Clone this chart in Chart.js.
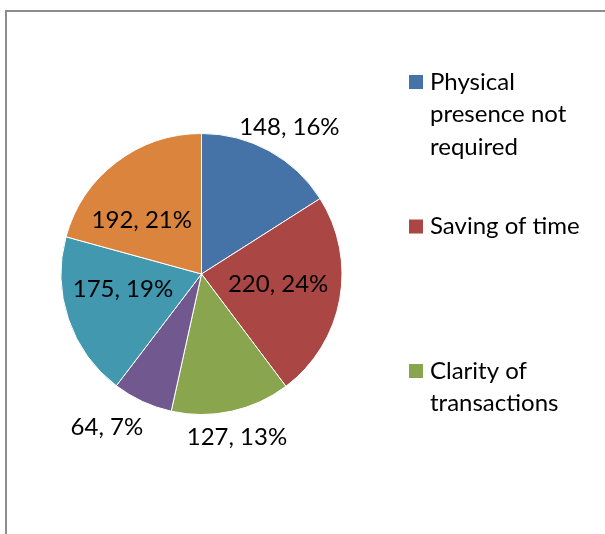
<!DOCTYPE html>
<html>
<head>
<meta charset="utf-8">
<script src="https://cdn.jsdelivr.net/npm/chart.js@4"></script>
<style>
  html, body { margin: 0; padding: 0; background: #fff; }
  #wrap { position: relative; width: 605px; height: 534px; overflow: hidden; }
  #frame { position: absolute; left: 5px; top: 10px; width: 700px; height: 600px;
           border-left: 2px solid #8c8c8c; border-top: 2px solid #8c8c8c; box-sizing: border-box; }
  canvas { position: absolute; left: 0; top: 0; }
</style>
</head>
<body>
<div id="wrap">
  <div id="frame"></div>
  <canvas id="c" width="605" height="534"></canvas>
</div>
<script>
// ---- data ----
const categories = [
  ["Physical", "presence not", "required"],
  ["Saving of time"],
  ["Clarity of", "transactions"],
  ["Category 4"],
  ["Category 5"],
  ["Category 6"]
];
const values = [148, 220, 127, 64, 175, 192];
const percentLabels = [16, 24, 13, 7, 19, 21];
const colors = ["#4572A7", "#AA4643", "#89A54E", "#71588F", "#4198AF", "#DB843D"];

const FONT = "Lato, 'Liberation Sans', sans-serif";

const labelPlugin = {
  id: 'sliceLabels',
  afterDatasetsDraw(chart, args, opts) {
    const ctx = chart.ctx;
    const meta = chart.getDatasetMeta(0);
    ctx.save();
    ctx.font = opts.fontSize + 'px ' + FONT;
    ctx.fillStyle = '#000';
    ctx.textAlign = 'center';
    ctx.textBaseline = 'middle';
    meta.data.forEach((arc, i) => {
      const p = arc.getProps(['x', 'y', 'startAngle', 'endAngle', 'outerRadius'], true);
      const mid = (p.startAngle + p.endAngle) / 2 + (opts.angleShift[i] || 0);
      const f = opts.radial[i];
      const x = p.x + Math.cos(mid) * p.outerRadius * f;
      const y = p.y + Math.sin(mid) * p.outerRadius * f;
      ctx.fillText(values[i] + ', ' + percentLabels[i] + '%', x, y);
    });
    ctx.restore();
  }
};

const legendPlugin = {
  id: 'sideLegend',
  afterDraw(chart, args, opts) {
    const ctx = chart.ctx;
    ctx.save();
    ctx.font = opts.fontSize + 'px ' + FONT;
    ctx.textBaseline = 'middle';
    ctx.textAlign = 'left';
    for (let i = 0; i < opts.maxItems; i++) {
      const y0 = opts.top + i * opts.spacing;
      ctx.fillStyle = colors[i];
      ctx.fillRect(opts.boxX, y0 - opts.box / 2, opts.box, opts.box);
      ctx.fillStyle = '#000';
      categories[i].forEach((line, k) => {
        ctx.fillText(line, opts.textX, y0 + k * opts.lineHeight);
      });
    }
    ctx.restore();
  }
};

new Chart(document.getElementById('c'), {
  type: 'pie',
  data: {
    labels: categories,
    datasets: [{
      data: values,
      backgroundColor: colors,
      borderColor: '#ffffff',
      borderWidth: 1
    }]
  },
  options: {
    responsive: false,
    animation: false,
    layout: { padding: { left: 60.5, right: 262.5, top: 133, bottom: 119 } },
    plugins: {
      legend: { display: false },
      tooltip: { enabled: false },
      sliceLabels: {
        fontSize: 24,
        radial: [1.22, 0.55, 1.19, 1.28, 0.57, 0.57],
        angleShift: [0.036, -0.05, 0, 0.12, 0.13, -0.19]
      },
      sideLegend: {
        fontSize: 24, maxItems: 3, top: 82, spacing: 144.5, lineHeight: 32.5,
        box: 14, boxX: 409, textX: 430
      }
    }
  },
  plugins: [labelPlugin, legendPlugin]
});
</script>
</body>
</html>
